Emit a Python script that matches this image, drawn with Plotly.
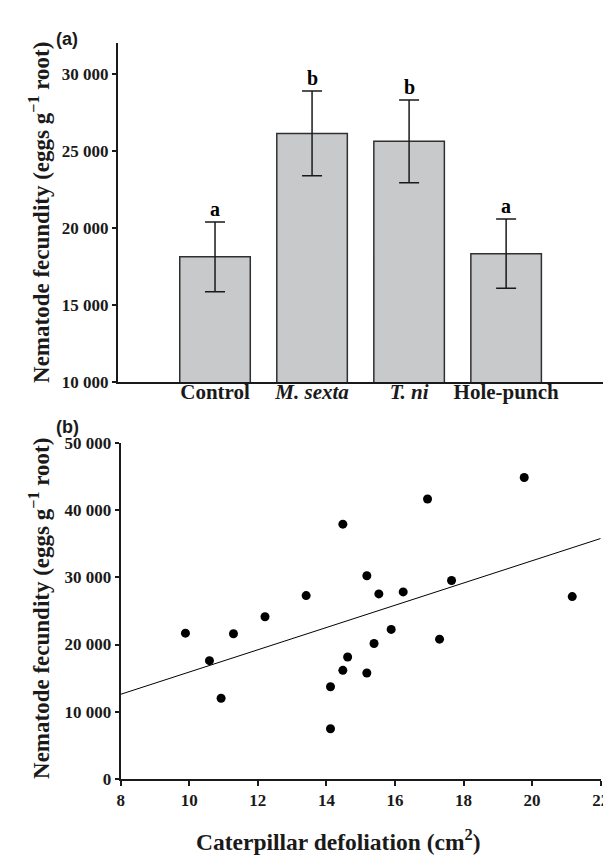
import plotly.graph_objects as go

W, H = 611, 855

# ---- Panel (a) data ----
categories = ["Control", "<i>M. sexta</i>", "<i>T. ni</i>", "Hole-punch"]
fecundity_mean = [18130, 26150, 25640, 18340]
fecundity_se = [2260, 2750, 2690, 2250]
sig_letters = ["a", "b", "b", "a"]
a_yticks = [10000, 15000, 20000, 25000, 30000]

# ---- Panel (b) data ----
defoliation = [9.89, 10.59, 10.93, 11.29, 12.21, 13.41, 14.12, 14.12, 14.48, 14.48, 14.62,
               15.18, 15.18, 15.39, 15.53, 15.89, 16.24, 16.95, 17.30, 17.65, 19.77, 21.17]
fecundity_b = [21700, 17600, 12000, 21600, 24150, 27300, 13700, 7450, 37950, 16150, 18150,
               30250, 15750, 20150, 27550, 22250, 27850, 41700, 20800, 29550, 44900, 27150]
fit_x = [8, 22]
fit_y = [12580, 35810]
b_xticks = [8, 10, 12, 14, 16, 18, 20, 22]
b_yticks = [0, 10000, 20000, 30000, 40000, 50000]


def px_x(p):
    return p / W


def px_y(p):
    return 1 - p / H


SERIF = "Liberation Serif"
AXCOL = "#1a1a1a"


def sfont(size, family=SERIF, color="#1a1a1a"):
    return dict(family=family, size=size, color=color, weight="bold")


fig = go.Figure()

cat_pos = list(range(len(categories)))

fig.add_trace(go.Bar(
    x=cat_pos, y=fecundity_mean, width=0.727,
    marker=dict(color="#c8c9cb", line=dict(color="#303030", width=1.5)),
    error_y=dict(type="data", array=fecundity_se, visible=True,
                 color="#1a1a1a", thickness=1.5, width=10),
    xaxis="x", yaxis="y", showlegend=False,
))

fig.add_trace(go.Scatter(
    x=fit_x, y=fit_y, mode="lines",
    line=dict(color="black", width=1),
    xaxis="x2", yaxis="y2", showlegend=False,
))
fig.add_trace(go.Scatter(
    x=defoliation, y=fecundity_b, mode="markers",
    marker=dict(color="black", size=9),
    xaxis="x2", yaxis="y2", showlegend=False,
))

annotations = []
for xi, m, s, lab in zip(cat_pos, fecundity_mean, fecundity_se, sig_letters):
    annotations.append(dict(
        x=xi, y=m + s, xref="x", yref="y", text=lab, showarrow=False,
        yanchor="bottom", xanchor="center", yshift=0,
        font=sfont(20, color="black"),
    ))

ytitle = "Nematode fecundity (eggs g<sup>\u22121</sup> root)"
for cy in (200, 605):
    annotations.append(dict(
        x=px_x(28), y=px_y(cy), xref="paper", yref="paper", text=ytitle,
        showarrow=False, textangle=-90, xanchor="center", yanchor="middle",
        font=sfont(23),
    ))

annotations.append(dict(
    x=px_x(334), y=px_y(842), xref="paper", yref="paper",
    text="Caterpillar defoliation (cm<sup>2</sup>)",
    showarrow=False, xanchor="center", yanchor="middle",
    font=sfont(23.5),
))

for lab, cx, cy in (("(a)", 56, 23), ("(b)", 57, 419)):
    annotations.append(dict(
        x=px_x(cx), y=px_y(cy), xref="paper", yref="paper", text=lab,
        showarrow=False, xanchor="center", yanchor="middle",
        font=sfont(18, family="Liberation Sans"),
    ))

fig.update_layout(
    width=W, height=H,
    margin=dict(l=0, r=0, t=0, b=0),
    paper_bgcolor="white", plot_bgcolor="white",
    separators=". ",
    annotations=annotations,
    xaxis=dict(
        domain=[px_x(108.3), px_x(605)], anchor="y",
        range=[-1, 4.01], tickvals=cat_pos, ticktext=categories,
        showgrid=False, zeroline=False, showline=True, linecolor=AXCOL, linewidth=2,
        ticks="", tickfont=sfont(21), ticklabelstandoff=-10,
    ),
    yaxis=dict(
        domain=[px_y(373.3), px_y(27)], anchor="x",
        range=[10000, 32000], tickvals=a_yticks, tickformat=",d",
        showgrid=False, zeroline=False, showline=True, linecolor=AXCOL, linewidth=2,
        ticks="outside", ticklen=4, tickwidth=1.5, tickcolor=AXCOL, tickfont=sfont(17),
    ),
    xaxis2=dict(
        domain=[px_x(111), px_x(601.5)], anchor="y2",
        range=[8, 22], tickvals=b_xticks,
        showgrid=False, zeroline=False, showline=True, linecolor=AXCOL, linewidth=2,
        ticks="outside", ticklen=5, tickwidth=1.5, tickcolor=AXCOL, tickfont=sfont(17),
        ticklabeloverflow="allow",
    ),
    yaxis2=dict(
        domain=[px_y(779), px_y(436)], anchor="x2",
        range=[0, 50000], tickvals=b_yticks, tickformat=",d",
        showgrid=False, zeroline=False, showline=True, linecolor=AXCOL, linewidth=2,
        ticks="outside", ticklen=4, tickwidth=1.5, tickcolor=AXCOL, tickfont=sfont(17),
    ),
)

fig.write_html("out.html")
